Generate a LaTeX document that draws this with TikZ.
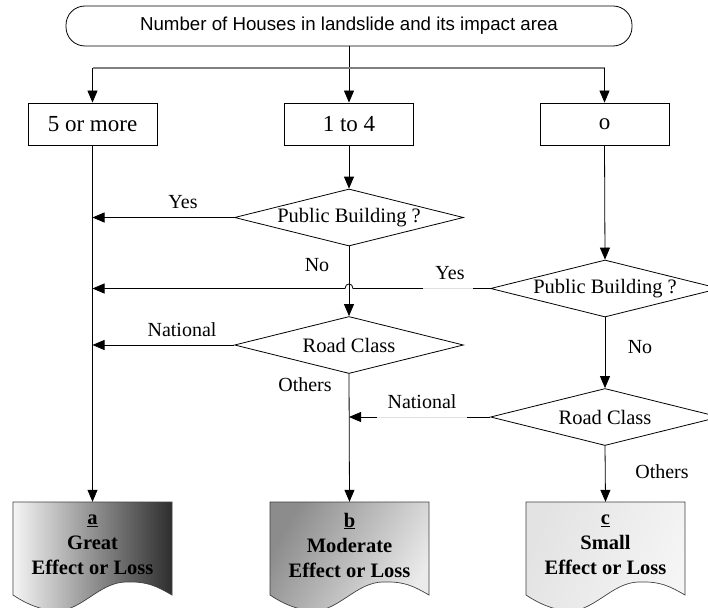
\documentclass[tikz,border=0pt]{standalone}
\usepackage{fontspec}
\setmainfont{Liberation Serif}
\newfontfamily\sansf{Liberation Sans}
\usetikzlibrary{shapes.geometric,arrows.meta,calc}
\newcommand\mydocshape[2]{%
\begin{scope}[shift={(#1,502)}]
\path[#2] (0,0) -- (159,0) -- (159,93) .. controls (145,85) and (135,79) .. (112,80) .. controls (90,81) and (75,100) .. (55,107) .. controls (35,112) and (15,103) .. (0,93) -- cycle;
\end{scope}}
\tikzset{
  conn/.style={draw=black, line width=0.8pt, -{Triangle[length=12pt,width=10pt]}},
  plain/.style={draw=black, line width=0.8pt},
  topbox/.style={draw, line width=0.8pt, rounded corners=19pt, minimum width=566pt, minimum height=40pt, inner sep=0pt, font=\sansf\fontsize{18.7}{22}\selectfont},
  boxst/.style={draw, line width=0.8pt, minimum width=129pt, minimum height=42pt, inner sep=0pt, font=\fontsize{23}{26}\selectfont},
  dia/.style={draw, line width=0.8pt, diamond, shape aspect=4, minimum width=229pt, minimum height=57pt, inner sep=0pt, font=\fontsize{20.5}{23}\selectfont},
  lbl/.style={font=\fontsize{20}{22}\selectfont, inner sep=0pt},
  docnode/.style={minimum width=159pt, minimum height=93pt, inner sep=0pt},
  doctext/.style={align=center, font=\bfseries\fontsize{20.5}{25}\selectfont, inner sep=0pt},
  docline/.style={draw=black!75, line width=0.7pt},
  gap/.style={draw=black!12, line width=0.6pt}
}
\begin{document}
\begin{tikzpicture}[x=1pt,y=-1pt]
\useasboundingbox (0,0) rectangle (708,607);
\clip (0,0) rectangle (708,607);
\fill[white] (0,0) rectangle (708,607);

% nodes
\node[topbox] (top) at (349,26) {Number of Houses in landslide and its impact area};
\node[boxst] (b1) at (92.5,124) {5 or more};
\node[boxst] (b2) at (349,124) {1 to 4};
\node[boxst] (b3) at (604.5,124) {o};
\node[dia] (pb1) at (349,217.5) {Public Building ?};
\node[dia] (rc1) at (349,345) {Road Class};
\node[dia] (pb2) at (605,288.5) {Public Building ?};
\node[dia] (rc2) at (605,417) {Road Class};
\node[docnode] (dA) at (92.5,548.5) {};
\node[docnode] (dB) at (349.5,548.5) {};
\node[docnode] (dC) at (605.5,548.5) {};

% documents
\mydocshape{13}{docline, left color=black!4, right color=black!82}
\mydocshape{270}{docline, left color=black!45, right color=black!8, shading angle=60}
\mydocshape{526}{docline, left color=black!11, right color=black!4, shading angle=70}
\node[doctext] at (dA.center) [yshift=3.5pt] {\underline{a}\\Great\\Effect or Loss};
\node[doctext] at (dB.center) [yshift=3.5pt] {\underline{b}\\Moderate\\Effect or Loss};
\node[doctext] at (dC.center) [yshift=3.5pt] {\underline{c}\\Small\\Effect or Loss};

% distribution
\coordinate (j1) at (b1.north |- 0,68);
\coordinate (j3) at (b3.north |- 0,68);
\draw[conn] (top.south) -- (b2.north);
\draw[draw=black!50, line width=1.5pt] (j1) -- (j3);
\draw[conn] (j1) -- (b1.north);
\draw[conn] (j3) -- (b3.north);

% left column
\draw[conn] (b1.south) -- (dA.north);

% middle column
\draw[conn] (b2.south) -- (pb1.north);
\draw[conn] (pb1.west) -- (b1.south |- pb1.west);
\draw[conn] (pb1.south) -- (rc1.north);
\draw[conn] (rc1.west) -- (b1.south |- rc1.west);
\draw[conn] (rc1.south) -- (dB.north);

% right column
\draw[conn] (b3.south) -- (pb2.north);
\coordinate (hopR) at ($(pb1.south |- pb2.west)+(4,0)$);
\coordinate (hopL) at ($(pb1.south |- pb2.west)+(-4,0)$);
\draw[conn] (pb2.west) -- (hopR) .. controls ($(hopR)+(0,-6)$) and ($(hopL)+(0,-6)$) .. (hopL) -- (b1.south |- pb2.west);
\draw[conn] (pb2.south) -- (rc2.north);
\draw[conn] (rc2.west) -- (rc1.south |- rc2.west);
\draw[conn] (rc2.south) -- (dC.north);

% light gaps under labels
\draw[white, line width=1.6pt] (423,288.5) -- (473,288.5);
\draw[gap] (423,288.5) -- (473,288.5);
\draw[white, line width=1.6pt] (377,417) -- (467,417);
\draw[gap] (377,417) -- (467,417);

% labels
\node[lbl] (l1) at (183,202) {Yes};
\node[lbl] (l2) at (317,265) {No};
\node[lbl] (l3) at (450,273) {Yes};
\node[lbl] (l4) at (182,330) {National};
\node[lbl] (l5) at (305,385) {Others};
\node[lbl] (l6) at (640,347) {No};
\node[lbl] (l7) at (422,402) {National};
\node[lbl] (l8) at (662,472) {Others};
\end{tikzpicture}
\end{document}
